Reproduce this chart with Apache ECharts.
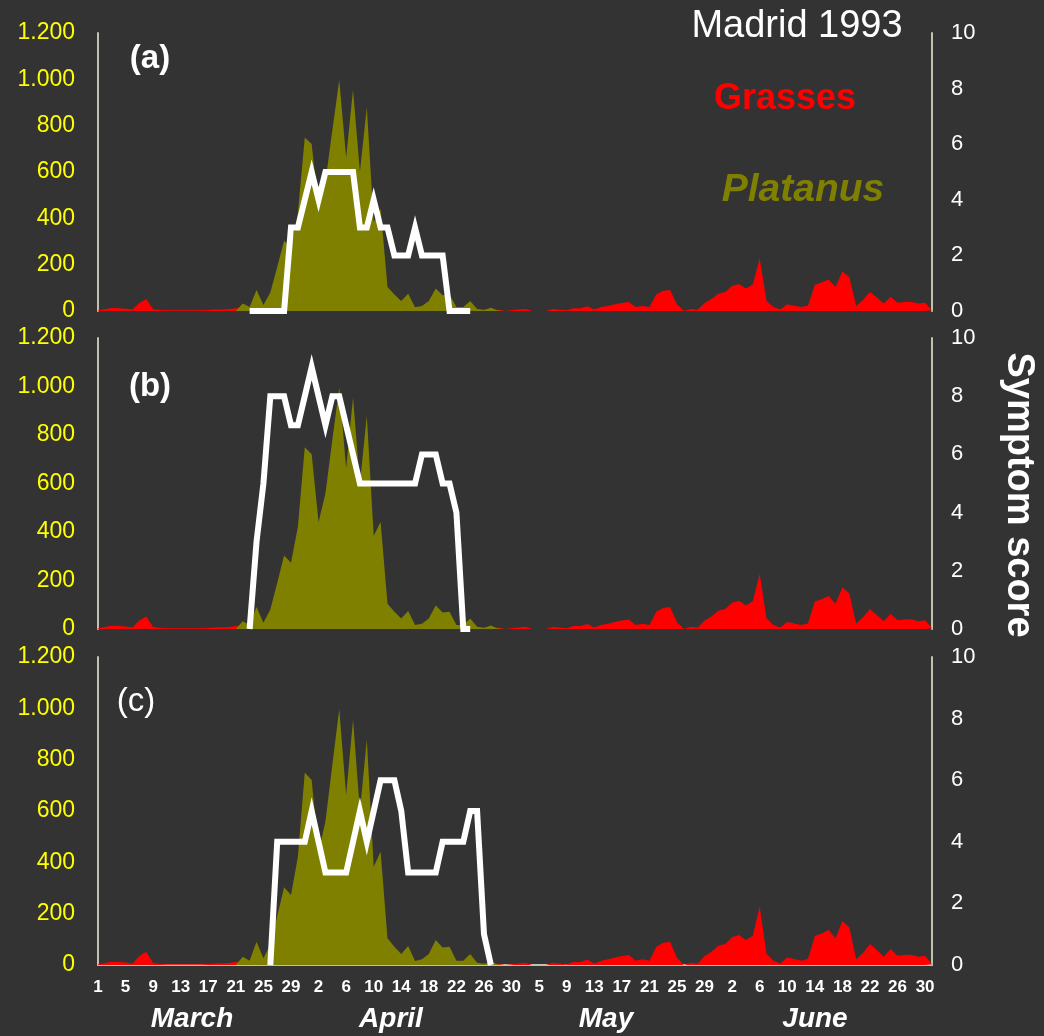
<!DOCTYPE html>
<html>
<head>
<meta charset="utf-8">
<title>Madrid 1993 – pollen and symptom score</title>
<script src="https://cdn.jsdelivr.net/npm/echarts@6/dist/echarts.min.js"></script>
<style>
  html, body { margin: 0; padding: 0; background: #333333; }
  #chart { width: 1044px; height: 1036px; }
</style>
</head>
<body>
<div id="chart"></div>
<script>
// Daily values, 1 March – 30 June 1993 (122 days)
const tickLabels = ['1','5','9','13','17','21','25','29',
                    '2','6','10','14','18','22','26','30',
                    '5','9','13','17','21','25','29',
                    '2','6','10','14','18','22','26','30'];
const months = ['March', 'April', 'May', 'June'];

// Grass pollen (grains/m3)
const grasses = [
  3, 8, 13, 12, 10, 6, 35, 52, 8, 4,
  3, 3, 3, 3, 3, 3, 4, 6, 7, 8,
  12, 15, 12, 10, 8, 6, 5, 5, 6, 5,
  5, 6, 5, 5, 4, 5, 6, 5, 5, 4,
  5, 6, 5, 4, 5, 6, 5, 5, 4, 5,
  6, 5, 5, 4, 5, 6, 6, 3, 5, 0,
  3, 6, 9, 0, 0, 0, 9, 5, 3, 12,
  12, 21, 6, 17, 22, 29, 35, 39, 17, 22,
  17, 71, 87, 91, 28, 0, 9, 5, 35, 52,
  75, 82, 108, 117, 97, 114, 227, 43, 17, 6,
  29, 23, 17, 23, 113, 123, 136, 104, 171, 147,
  22, 48, 82, 58, 32, 62, 36, 39, 40, 32,
  36, 3
];

// Platanus pollen (grains/m3)
const platanus = [
  0, 0, 0, 0, 0, 0, 0, 0, 0, 0,
  0, 0, 0, 0, 0, 0, 0, 0, 0, 0,
  0, 32, 17, 91, 26, 80, 190, 303, 273, 422,
  749, 721, 440, 560, 780, 996, 662, 955, 600, 879,
  383, 441, 104, 71, 43, 74, 16, 22, 43, 97,
  68, 71, 17, 17, 43, 9, 4, 14, 2, 0,
  0, 0, 0, 0, 0, 0, 0, 0, 0, 0,
  0, 0, 0, 0, 0, 0, 0, 0, 0, 0,
  0, 0, 0, 0, 0, 0, 0, 0, 0, 0,
  0, 0, 0, 0, 0, 0, 0, 0, 0, 0,
  0, 0, 0, 0, 0, 0, 0, 0, 0, 0,
  0, 0, 0, 0, 0, 0, 0, 0, 0, 0,
  0, 0
];

// Symptom scores of three patients; each list begins at the given day index
const scoreAStart = 22;
const scoreA = [0, 0, 0, 0, 0, 0, 3, 3, 4, 5, 4, 5, 5, 5, 5, 5, 3, 3, 4, 3, 3, 2, 2, 2, 3, 2, 2, 2, 2, 0, 0, 0, 0];
const scoreBStart = 22;
const scoreB = [0, 3, 5, 8, 8, 8, 7, 7, 8, 9, 8, 7, 8, 8, 7, 6, 5, 5, 5, 5, 5, 5, 5, 5, 5, 6, 6, 6, 5, 5, 4, 0, 0];
const scoreCStart = 25;
const scoreC = [0, 4, 4, 4, 4, 4, 5, 4, 3, 3, 3, 3, 4, 5, 4, 5, 6, 6, 6, 5, 3, 3, 3, 3, 3, 4, 4, 4, 4, 5, 5, 1, 0];

const panelNames = ['(a)', '(b)', '(c)'];
const scores = [[scoreAStart, scoreA], [scoreBStart, scoreB], [scoreCStart, scoreC]];

const days = grasses.map((_, i) => i);
const padScore = (start, vals) => days.map(i => (i >= start && i < start + vals.length) ? vals[i - start] : null);

const FONT = '"Liberation Sans", Arial, sans-serif';
const AXIS_COLOR = '#c4c0ae';

const grids = [
  { left: 98, right: 112, top: 33, height: 278 },
  { left: 98, right: 112, top: 338, height: 291 },
  { left: 98, right: 112, top: 657, height: 308 }
];

const fmtThousands = v => v >= 1000 ? Math.floor(v / 1000) + '.' + String(v % 1000).padStart(3, '0') : String(v);

const xAxes = grids.map((g, k) => ({
  type: 'category',
  gridIndex: k,
  data: days,
  boundaryGap: false,
  axisLine: { show: k === 2, lineStyle: { color: AXIS_COLOR, width: 2 } },
  axisTick: { show: false },
  axisLabel: {
    show: k === 2,
    interval: idx => idx % 4 === 0,
    hideOverlap: false,
    margin: 14,
    color: '#ffffff',
    fontFamily: FONT,
    fontSize: 17,
    fontWeight: 'bold',
    formatter: (v, idx) => tickLabels[idx / 4]
  },
  splitLine: { show: false }
}));

const yAxes = [];
grids.forEach((g, k) => {
  yAxes.push({
    type: 'value', gridIndex: k, position: 'left',
    min: 0, max: 1200, interval: 200,
    axisLine: { show: true, lineStyle: { color: AXIS_COLOR, width: 2 } },
    axisTick: { show: false },
    splitLine: { show: false },
    axisLabel: { color: '#ffff00', fontFamily: FONT, fontSize: 23, margin: 23, formatter: fmtThousands }
  });
  yAxes.push({
    type: 'value', gridIndex: k, position: 'right',
    min: 0, max: 10, interval: 2,
    axisLine: { show: true, lineStyle: { color: AXIS_COLOR, width: 2 } },
    axisTick: { show: false },
    splitLine: { show: false },
    axisLabel: { color: '#ffffff', fontFamily: FONT, fontSize: 22, margin: 19 }
  });
});

const series = [];
grids.forEach((g, k) => {
  series.push({
    name: 'Grasses', type: 'line', xAxisIndex: k, yAxisIndex: 2 * k,
    data: grasses, symbol: 'none', z: 1,
    lineStyle: { width: 0 },
    areaStyle: { color: '#ff0000', opacity: 1 }
  });
  series.push({
    name: 'Platanus', type: 'line', xAxisIndex: k, yAxisIndex: 2 * k,
    data: platanus, symbol: 'none', z: 2,
    lineStyle: { width: 0 },
    areaStyle: { color: '#808000', opacity: 1 }
  });
  series.push({
    name: 'Symptom score', type: 'line', xAxisIndex: k, yAxisIndex: 2 * k + 1,
    data: padScore(scores[k][0], scores[k][1]), symbol: 'none', z: 3,
    connectNulls: false,
    lineStyle: { color: '#ffffff', width: 6, join: 'miter', cap: 'butt' }
  });
});

const txt = (text, x, y, font, fill, extra) => Object.assign({
  type: 'text', x: x, y: y, silent: true,
  style: { text: text, x: 0, y: 0, font: font, fill: fill,
           textAlign: 'center', align: 'center',
           textVerticalAlign: 'middle', verticalAlign: 'middle' }
}, extra || {});

const monthCenters = [192, 391, 606, 815];
const graphics = [
  txt('Madrid 1993', 797, 27, '38px ' + FONT, '#ffffff'),
  txt('Grasses', 785, 99, 'bold 36px ' + FONT, '#ff0000'),
  txt('Platanus', 803, 190, 'italic bold 39px ' + FONT, '#808000'),
  txt('Symptom score', 1018, 495, 'bold 38px ' + FONT, '#ffffff', { rotation: -Math.PI / 2 }),
  txt(panelNames[0], 150, 59, 'bold 33px ' + FONT, '#ffffff'),
  txt(panelNames[1], 150, 387, 'bold 33px ' + FONT, '#ffffff'),
  txt(panelNames[2], 136, 702, '33px ' + FONT, '#ffffff')
];
months.forEach((m, i) => graphics.push(txt(m, monthCenters[i], 1019, 'italic bold 28px ' + FONT, '#ffffff')));

const chart = echarts.init(document.getElementById('chart'), null, { renderer: 'canvas' });
chart.setOption({
  backgroundColor: '#333333',
  animation: false,
  grid: grids,
  xAxis: xAxes,
  yAxis: yAxes,
  series: series,
  graphic: graphics
});
</script>
</body>
</html>
